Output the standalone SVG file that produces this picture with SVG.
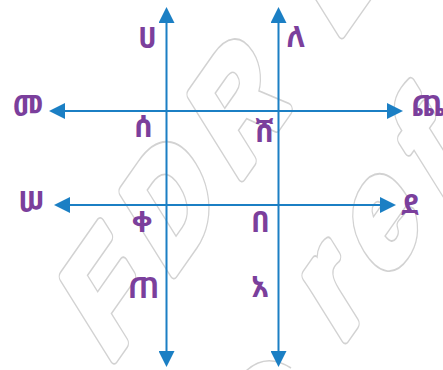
<svg xmlns="http://www.w3.org/2000/svg" width="443" height="370" viewBox="0 0 443 370">
  <style>
    .wm { font-family: "Liberation Sans", Arial, sans-serif; font-weight: bold; font-size: 128px; letter-spacing: 26px; stroke-linejoin: round; }
    .wm-o { fill: #d2d2d2; stroke: #d2d2d2; stroke-width: 11; }
    .wm-i { fill: #ffffff; stroke: #ffffff; stroke-width: 8; }
    .ax { stroke: #1b7fc4; stroke-width: 2; fill: none; }
    .lb { font-family: "Noto Sans Ethiopic", "Abyssinica SIL", "Noto Sans", "DejaVu Sans", sans-serif; font-weight: bold; font-size: 29px; fill: #7b3f9c; text-anchor: middle; }
  </style>
  <defs>
    <marker id="arr" viewBox="0 0 16 16" refX="0" refY="8" markerUnits="userSpaceOnUse" markerWidth="16" markerHeight="16" orient="auto-start-reverse">
      <path d="M0,0 L16,8 L0,16 z" fill="#1b7fc4"/>
    </marker>
  </defs>
  <rect width="443" height="370" fill="#ffffff"/>
  <g id="watermark">
    <g class="wm wm-o">
      <text transform="translate(109,365) rotate(-55) skewX(-23)">FDR</text>
      <text transform="translate(109,365) rotate(-55) skewX(-23)" x="397">E</text>
      <text transform="translate(340,345) rotate(-55) skewX(-23)">ref</text>
    </g>
    <g class="wm wm-i">
      <text transform="translate(109,365) rotate(-55) skewX(-23)">FDR</text>
      <text transform="translate(109,365) rotate(-55) skewX(-23)" x="397">E</text>
      <text transform="translate(340,345) rotate(-55) skewX(-23)">ref</text>
    </g>
    <path d="M246,371 Q266,352 291,368" fill="none" stroke="#d2d2d2" stroke-width="1.5"/>
  </g>
  <g id="connectors">
    <line class="ax" x1="166.5" y1="23" x2="166.5" y2="351" marker-start="url(#arr)" marker-end="url(#arr)"/>
    <line class="ax" x1="278.5" y1="23" x2="278.5" y2="351" marker-start="url(#arr)" marker-end="url(#arr)"/>
    <line class="ax" x1="65" y1="111" x2="387" y2="111" marker-start="url(#arr)" marker-end="url(#arr)"/>
    <line class="ax" x1="70" y1="205" x2="380" y2="205" marker-start="url(#arr)" marker-end="url(#arr)"/>
  </g>
  <g id="label-ha"><text class="lb" x="147.5" y="48">ሀ</text></g>
  <g id="label-le"><text class="lb" x="296" y="47">ለ</text></g>
  <g id="label-me"><text class="lb" x="28" y="116">መ</text></g>
  <g id="label-che"><text class="lb" x="411" y="116" style="text-anchor:start">ጨ</text></g>
  <g id="label-se"><text class="lb" x="143.5" y="137">ሰ</text></g>
  <g id="label-she"><text class="lb" x="264.5" y="142">ሸ</text></g>
  <g id="label-sse"><text class="lb" x="31.5" y="212">ሠ</text></g>
  <g id="label-de"><text class="lb" x="410" y="215">ደ</text></g>
  <g id="label-qe"><text class="lb" x="142" y="232">ቀ</text></g>
  <g id="label-be"><text class="lb" x="260.5" y="232">በ</text></g>
  <g id="label-te"><text class="lb" x="143.5" y="298">ጠ</text></g>
  <g id="label-a"><text class="lb" x="260" y="297">አ</text></g>
</svg>
